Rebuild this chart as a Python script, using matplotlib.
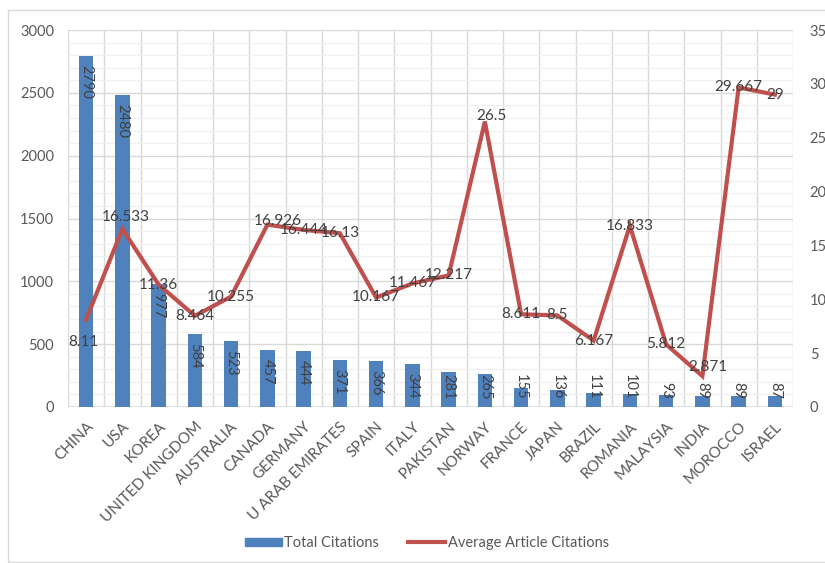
import matplotlib
matplotlib.use("Agg")
import matplotlib.pyplot as plt
from matplotlib.patches import Rectangle
from matplotlib.lines import Line2D
import numpy as np

plt.rcParams['font.family'] = ['Lato', 'DejaVu Sans']

countries = ["CHINA", "USA", "KOREA", "UNITED KINGDOM", "AUSTRALIA", "CANADA",
             "GERMANY", "U ARAB EMIRATES", "SPAIN", "ITALY", "PAKISTAN", "NORWAY",
             "FRANCE", "JAPAN", "BRAZIL", "ROMANIA", "MALAYSIA", "INDIA",
             "MOROCCO", "ISRAEL"]
total_citations = [2790, 2480, 977, 584, 523, 457, 444, 371, 366, 344, 281, 265,
                   155, 136, 111, 101, 93, 89, 89, 87]
avg_citations = [8.11, 16.533, 11.36, 8.464, 10.255, 16.926, 16.444, 16.13,
                 10.167, 11.467, 12.217, 26.5, 8.611, 8.5, 6.167, 16.833,
                 5.812, 2.871, 29.667, 29]
avg_labels = ["8.11", "16.533", "11.36", "8.464", "10.255", "16.926", "16.444",
              "16.13", "10.167", "11.467", "12.217", "26.5", "8.611", "8.5",
              "6.167", "16.833", "5.812", "2.871", "29.667", "29"]

# label nudges in pixels (most labels sit centred on the point)
label_shift = {0: (-3, -22), 1: (3, 12), 11: (7, 6), 17: (5, 9), 5: (10, 4)}

BLUE = "#4F81BD"
RED = "#C0504D"
TXT = "#404040"
TICK = "#595959"

W, H = 825, 563
fig = plt.figure(figsize=(W / 100, H / 100), dpi=100)
fig.patches.append(Rectangle((8 / W, 1 - 562 / H), 830 / W, 552 / H,
                             transform=fig.transFigure, fill=False,
                             edgecolor="#D9D9D9", lw=1))

ax = fig.add_axes([68 / W, 1 - 407 / H, 725 / W, 377 / H])
x = np.arange(len(countries))

ax.set_xlim(-0.5, len(countries) - 0.5)
ax.set_ylim(0, 3000)
ax.set_yticks(np.arange(0, 3001, 500))
ax.set_yticks(np.arange(0, 3001, 100), minor=True)
ax.grid(axis="y", which="minor", color="#F0F0F0", lw=1)
ax.grid(axis="y", which="major", color="#D9D9D9", lw=1)
for b in np.arange(-0.5, len(countries), 1):
    ax.axvline(b, color="#D9D9D9", lw=1, zorder=0.5)
ax.set_axisbelow(True)

ax.bar(x, total_citations, width=0.4, color=BLUE, zorder=2)

for s in ax.spines.values():
    s.set_visible(False)
ax.axhline(0, color="#D9D9D9", lw=1.2, zorder=1)

ax.tick_params(axis="y", which="both", length=0, pad=10, labelsize=10.5, labelcolor=TICK)
ax.tick_params(axis="x", length=0, pad=9)
ax.set_xticks(x)
ax.set_xticklabels(countries, rotation=45, ha="right", rotation_mode="anchor",
                   fontsize=11, color=TICK)

# bar value labels, rotated, inside end, kept inside the plot
px = 3000 / 377.0
for xi, v in zip(x, total_citations):
    n = len(str(v))
    top = max(v - 9 * px, (10 + 7.6 * n) * px)
    ax.text(xi, top, str(v), rotation=-90, ha="center", va="top",
            fontsize=10.5, color=TXT, zorder=4)

ax2 = ax.twinx()
ax2.set_ylim(0, 35)
ax2.set_yticks(np.arange(0, 36, 5))
for s in ax2.spines.values():
    s.set_visible(False)
ax2.tick_params(axis="y", length=0, pad=12, labelsize=10.5, labelcolor=TICK)
ax2.plot(x, avg_citations, color=RED, lw=3, solid_joinstyle="miter", zorder=3)

for i, (v, lab) in enumerate(zip(avg_citations, avg_labels)):
    dx, dy = label_shift.get(i, (0, 0))
    ax2.annotate(lab, (x[i], v), xytext=(dx * 0.72, dy * 0.72),
                 textcoords="offset points", ha="center", va="center",
                 fontsize=11, color=TXT, zorder=5)

handles = [Rectangle((0, 0), 1, 1, color=BLUE),
           Line2D([0], [0], color=RED, lw=3)]
fig.legend(handles, ["Total Citations", "Average Article Citations"],
           loc="center", bbox_to_anchor=(427 / W, 1 - 543 / H), ncol=2,
           frameon=False, fontsize=10.5, labelcolor=TICK, handlelength=2.5,
           handleheight=0.5, handletextpad=0.2, columnspacing=2.0)

fig.savefig("out.png", dpi=100)
